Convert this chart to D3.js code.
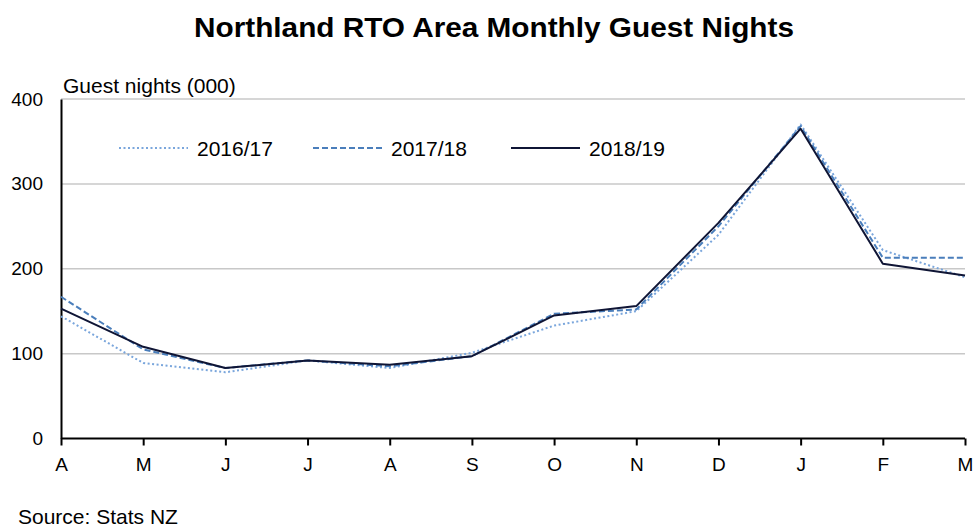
<!DOCTYPE html>
<html>
<head>
<meta charset="utf-8">
<script src="https://cdn.jsdelivr.net/npm/d3@7"></script>
<style>
  body { margin: 0; background: #fff; }
  svg { display: block; font-family: "Liberation Sans", Arial, sans-serif; }
</style>
</head>
<body>
<svg id="chart" width="979" height="529"></svg>
<script>
// data (guest nights, thousands)
const months = ["A", "M", "J", "J", "A", "S", "O", "N", "D", "J", "F", "M"];
const s2016 = [144, 89, 78, 92, 83, 101, 133, 150, 240, 370, 222, 190];
const s2017 = [167, 105, 83, 92, 85, 97, 147, 152, 250, 368, 213, 213];
const s2018 = [153, 108, 83, 92, 87, 97, 145, 156, 254, 365, 206, 192];
const seriesNames = ["2016/17", "2017/18", "2018/19"];
const yTicks = [0, 100, 200, 300, 400];

const svg = d3.select("#chart");
const plotLeft = 61, plotRight = 965, plotTop = 99, plotBottom = 438.5;
const fontFam = "Liberation Sans, Arial, sans-serif";

const x = d3.scalePoint().domain(d3.range(months.length)).range([plotLeft, plotRight]);
const y = d3.scaleLinear().domain([0, 400]).range([plotBottom, plotTop]);

// title
svg.append("text")
  .attr("x", 494).attr("y", 37)
  .attr("text-anchor", "middle")
  .style("font-size", "28px").style("font-weight", "bold")
  .attr("textLength", 600).attr("lengthAdjust", "spacingAndGlyphs")
  .text("Northland RTO Area Monthly Guest Nights");

// gridlines
svg.append("g").selectAll("line")
  .data(yTicks.filter(d => d > 0))
  .join("line")
  .attr("x1", plotLeft).attr("x2", plotRight)
  .attr("y1", d => y(d)).attr("y2", d => y(d))
  .attr("stroke", "#c8c8c8").attr("stroke-width", 1.5);

// y axis
const yAxis = svg.append("g")
  .attr("transform", `translate(${plotLeft},0)`)
  .call(d3.axisLeft(y).tickValues(yTicks).tickSize(0).tickPadding(18));
yAxis.select(".domain").attr("stroke", "#000").attr("stroke-width", 2);
yAxis.selectAll("text").style("font-size", "19px").attr("fill", "#000")
  .attr("font-family", fontFam);

// x axis
const xAxis = svg.append("g")
  .attr("transform", `translate(0,${plotBottom})`)
  .call(d3.axisBottom(x).tickFormat(i => months[i]).tickSize(6).tickSizeOuter(0));
xAxis.select(".domain").attr("stroke", "#000").attr("stroke-width", 2)
  .attr("d", `M${plotLeft},0H${plotRight}`);
xAxis.selectAll(".tick line").attr("stroke", "#000").attr("stroke-width", 2).attr("y1", 0).attr("y2", 7);
xAxis.selectAll("text").style("font-size", "19px").attr("fill", "#000")
  .attr("font-family", fontFam)
  .attr("y", 19.5);

// axis title
svg.append("text")
  .attr("x", 63).attr("y", 93)
  .style("font-size", "21px")
  .text("Guest nights (000)");

// lines
const styles = [
  { data: s2016, color: "#7aa6dc", dash: "2,2.5", width: 2 },
  { data: s2017, color: "#4a7ebb", dash: "6,3", width: 2 },
  { data: s2018, color: "#0f1535", dash: null, width: 2 }
];
const line = d3.line().x((d, i) => x(i)).y(d => y(d));
svg.append("g").selectAll("path")
  .data(styles)
  .join("path")
  .attr("d", d => line(d.data))
  .attr("fill", "none")
  .attr("stroke", d => d.color)
  .attr("stroke-width", d => d.width)
  .attr("stroke-dasharray", d => d.dash)
  .attr("stroke-linejoin", "round");

// legend
const legendX = [119, 313, 511];
const legend = svg.append("g").selectAll("g")
  .data(styles)
  .join("g")
  .attr("transform", (d, i) => `translate(${legendX[i]},148)`);
legend.append("line")
  .attr("x1", 0).attr("x2", 69)
  .attr("stroke", d => d.color)
  .attr("stroke-width", d => d.width)
  .attr("stroke-dasharray", d => d.dash);
legend.append("text")
  .attr("x", 78).attr("y", 7.5)
  .style("font-size", "21px")
  .text((d, i) => seriesNames[i]);

// source
svg.append("text")
  .attr("x", 18).attr("y", 524)
  .style("font-size", "21px")
  .text("Source: Stats NZ");
</script>
</body>
</html>
